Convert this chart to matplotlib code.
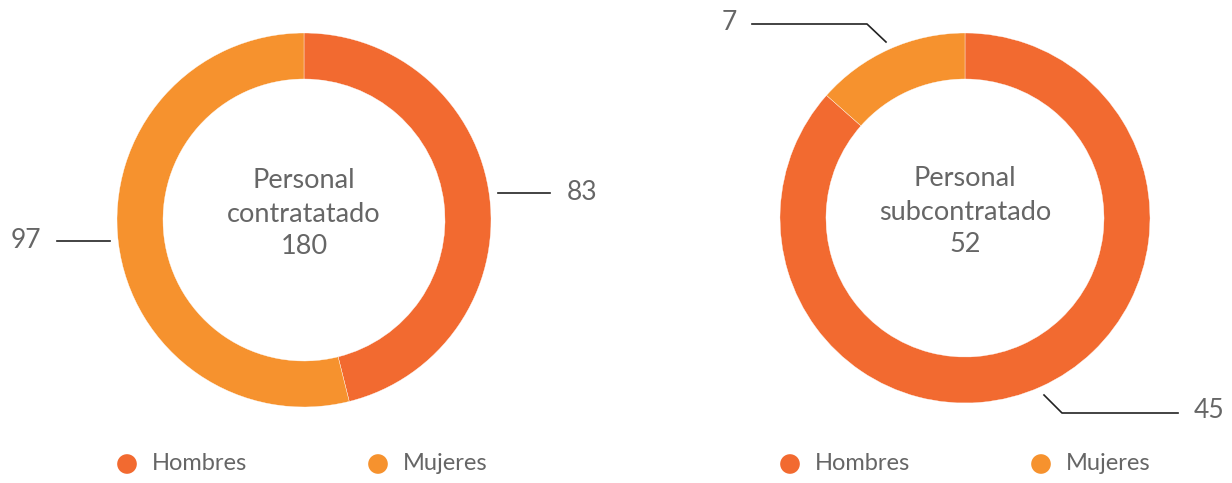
import matplotlib.pyplot as plt

plt.rcParams['font.family'] = ['Lato', 'DejaVu Sans']

categories = ['Hombres', 'Mujeres']
colors = ['#F26A30', '#F6922E']

contratado = [83, 97]
subcontratado = [45, 7]
titles = ['Personal\ncontratatado\n180', 'Personal\nsubcontratado\n52']

W, H = 1232, 483
grey = '#666666'

fig = plt.figure(figsize=(W / 100, H / 100), dpi=100)
ax = fig.add_axes([0, 0, 1, 1])

# donuts (pixel coords, y measured from bottom)
donuts = [
    (contratado, (304, H - 220), 187),
    (subcontratado, (965, H - 218), 185),
]
for (vals, c, r), title in zip(donuts, titles):
    ax.pie(vals, colors=colors, startangle=90, counterclock=False,
           center=c, radius=r, frame=True,
           wedgeprops=dict(width=46, edgecolor='white', linewidth=0.25))
    ax.text(c[0], c[1] + 6, title, ha='center', va='center', fontsize=19.5,
            color=grey, linespacing=1.4)

ax.set_xlim(0, W)
ax.set_ylim(0, H)
ax.set_aspect('equal')
ax.axis('off')

# leader lines + value labels
lw = 1.2
fs = 19
ax.plot([498, 550], [H - 193, H - 193], color='#222222', lw=lw)
ax.text(567, H - 193, str(contratado[0]), ha='left', va='center', fontsize=fs, color=grey)
ax.plot([57, 110], [H - 241, H - 241], color='#222222', lw=lw)
ax.text(41, H - 241, str(contratado[1]), ha='right', va='center', fontsize=fs, color=grey)

ax.plot([752, 867, 886], [H - 24, H - 24, H - 42], color='#222222', lw=lw)
ax.text(737, H - 22, str(subcontratado[1]), ha='right', va='center', fontsize=fs, color=grey)
ax.plot([1178, 1062, 1044], [H - 413, H - 413, H - 395], color='#222222', lw=lw)
ax.text(1194, H - 411, str(subcontratado[0]), ha='left', va='center', fontsize=fs, color=grey)

# legends
for x0 in (127, 790):
    for i, cat in enumerate(categories):
        mx = x0 + i * 251
        ax.scatter([mx], [H - 464], s=200, color=colors[i], edgecolors='none')
        ax.text(mx + 25, H - 464, cat, ha='left', va='center', fontsize=17, color=grey)

fig.savefig('out.png', dpi=100)
